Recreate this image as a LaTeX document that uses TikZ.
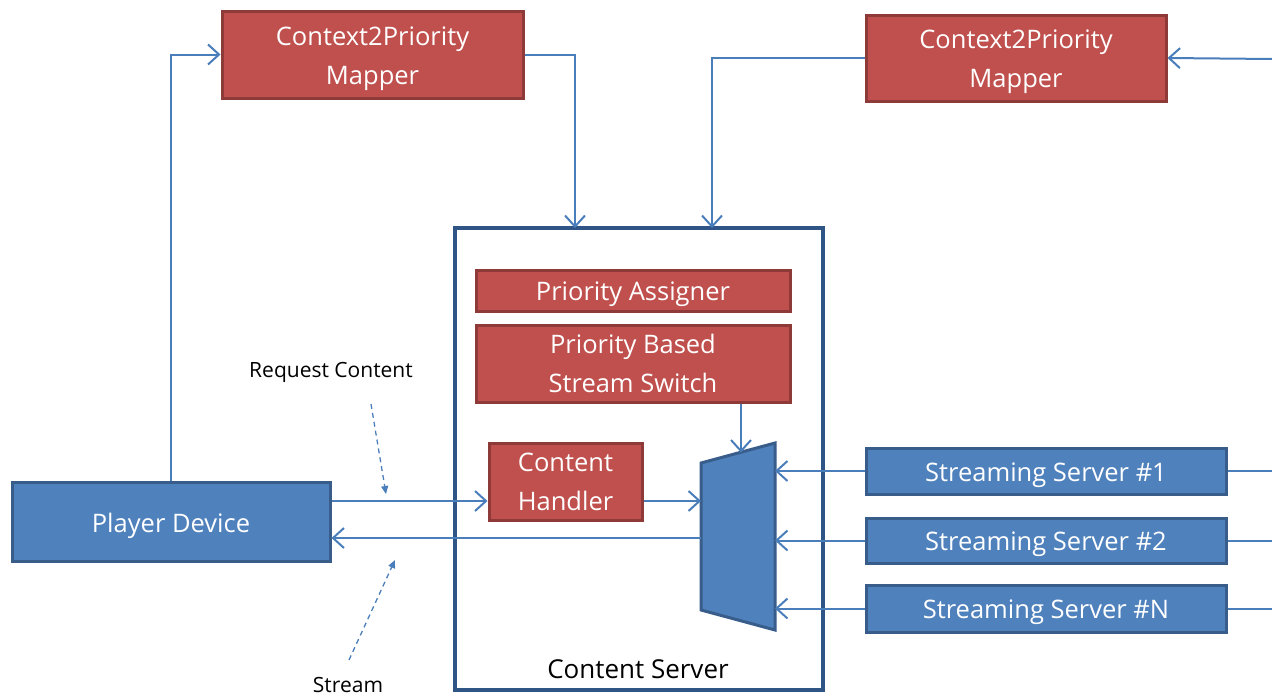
\documentclass[tikz,border=0pt]{standalone}
\usepackage{fontspec}
\setmainfont{Open Sans}
\usetikzlibrary{arrows.meta,calc}
\definecolor{redfill}{HTML}{C0504D}
\definecolor{redline}{HTML}{8E3A38}
\definecolor{bluefill}{HTML}{4F81BD}
\definecolor{blueline}{HTML}{385D8A}
\definecolor{frameline}{HTML}{2F5587}
\definecolor{wirecol}{HTML}{4A7EBB}
% shift a label down without changing the box size that centres it
\newcommand{\lowered}[1]{\raisebox{-4pt}[\height][\depth]{#1}}
\begin{document}
\begin{tikzpicture}[x=1pt,y=-1pt,
  box/.style={rectangle, line width=3pt, text=white, align=center, inner sep=0pt,
    font=\fontsize{25.5}{39}\selectfont},
  redbox/.style={box, draw=redline, fill=redfill},
  bluebox/.style={box, draw=blueline, fill=bluefill},
  wire/.style={draw=wirecol, line width=2pt},
  conn/.style={wire, -{Straight Barb[length=11pt,width=20pt,line width=2pt]}},
  note/.style={font=\fontsize{21}{24}\selectfont, text=black},
  hint/.style={draw=wirecol, line width=1.3pt, dash pattern=on 5pt off 4pt,
    -{Triangle[length=8pt,width=7pt]}}
]
\useasboundingbox (0,0) rectangle (1272,696);

% Content server frame
\node[draw=frameline, line width=4pt, fill=white, minimum width=368pt, minimum height=462pt,
  inner sep=0pt] (cs) at (639,459) {};
\node[font=\fontsize{26}{30}\selectfont] (cslabel) at (638,669) {Content Server};

% Mappers
\node[redbox, minimum width=301pt, minimum height=87pt] (m1) at (372.5,54.5) {\lowered{Context2Priority}\\\lowered{Mapper}};
\node[redbox, minimum width=300pt, minimum height=86pt] (m2) at (1016,58) {\lowered{Context2Priority}\\\lowered{Mapper}};

% Blocks inside the content server
\node[redbox, minimum width=314pt, minimum height=41pt] (pa) at (633,290.5) {\lowered{Priority Assigner}};
\node[redbox, minimum width=314pt, minimum height=77pt] (pbss) at (633,363.5) {Priority Based\\Stream Switch};
\node[redbox, minimum width=153pt, minimum height=77pt] (ch) at (565.5,481.5) {Content\\Handler};

% Player and streaming servers
\node[bluebox, minimum width=318pt, minimum height=79pt] (pd) at (171,521.5) {\lowered{Player Device}};
\node[bluebox, minimum width=360pt, minimum height=46pt] (ss1) at (1046,471) {\lowered{Streaming Server \#1}};
\node[bluebox, minimum width=360pt, minimum height=45pt] (ss2) at (1046,540.5) {\lowered{Streaming Server \#2}};
\node[bluebox, minimum width=360pt, minimum height=47pt] (ssn) at (1046,608.5) {\lowered{Streaming Server \#N}};

% Stream multiplexer
\coordinate (muxTL) at (701,463);
\coordinate (muxTR) at (775,443);
\coordinate (muxBR) at (775,630);
\coordinate (muxBL) at (701,610);
\filldraw[fill=bluefill, draw=blueline, line width=3pt, line join=miter]
  (muxTL) -- (muxTR) -- (muxBR) -- (muxBL) -- cycle;
\coordinate (muxtop) at (741,452.5);

% Entry points on the content server frame
\coordinate (in1) at (575,228);
\coordinate (in2) at (712,228);
\coordinate (edge) at (1272,59);

% Mapper connections
\draw[conn] (pd.north) |- (m1.west);
\draw[conn] (m1.east) -| (in1);
\draw[conn] (edge) -- (m2.east);
\draw[conn] (m2.west) -| (in2);

% Request and stream paths
\coordinate (req) at ($(ch.west)+(0,19.5)$);
\coordinate (strm) at (701,538);
\draw[conn] (pd.east |- req) -- (req);
\draw[conn] (ch.east |- req) -- (req -| muxTL);
\draw[conn] (strm) -- (pd.east |- strm);
\draw[conn] (pbss.south -| muxtop) -- (muxtop);

% Streaming servers into the multiplexer
\foreach \s in {ss1,ss2,ssn}{
  \draw[conn] (\s.west) -- (\s.west -| muxTR);
  \draw[wire] (\s.east) -- (\s.east -| edge);
}

% Annotations
\node[note] (rc) at (331,372) {Request Content};
\node[note, anchor=base, inner sep=0pt] (st) at (348,692) {Stream};
\coordinate (rcA) at (371,404);
\coordinate (rcB) at (386,494);
\coordinate (stA) at (349,660);
\coordinate (stB) at (395,560);
\draw[hint] (rcA) -- (rcB);
\draw[hint] (stA) -- (stB);
\end{tikzpicture}
\end{document}
